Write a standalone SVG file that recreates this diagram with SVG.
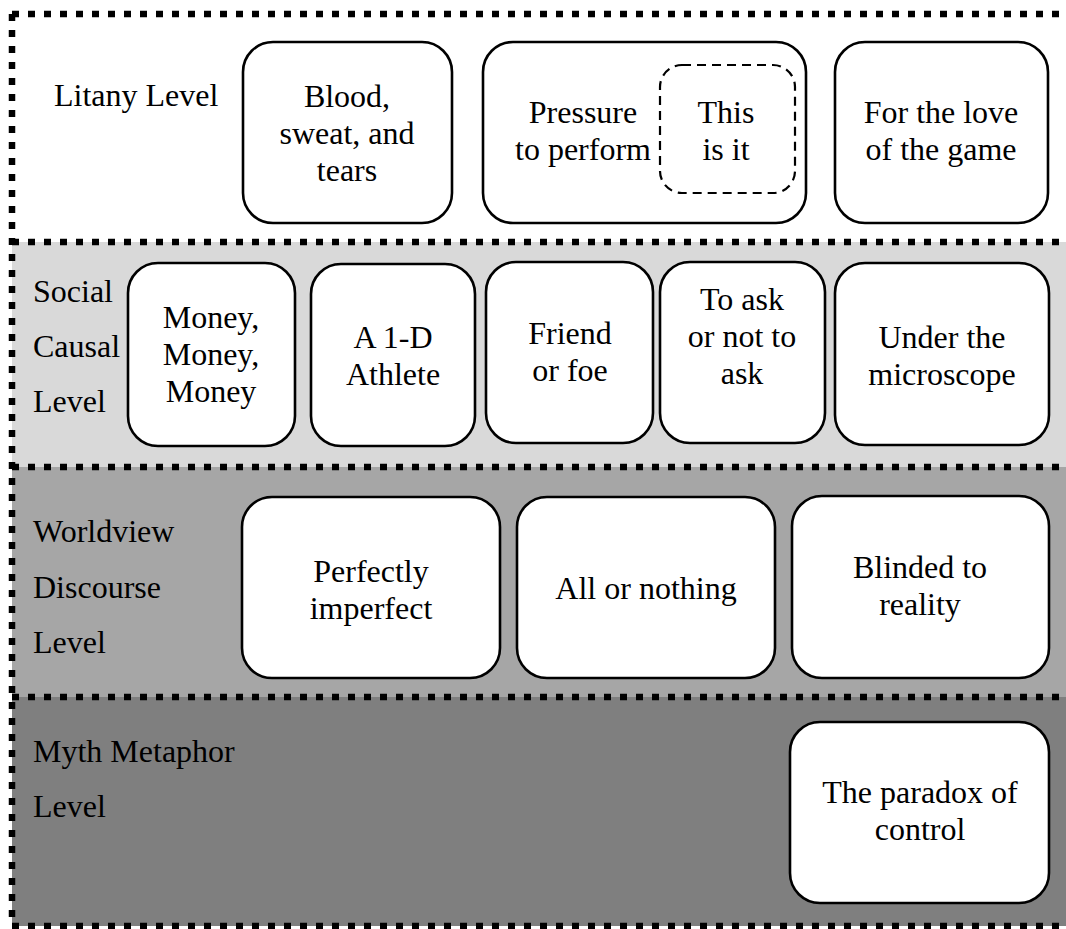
<svg xmlns="http://www.w3.org/2000/svg" width="1066" height="929" viewBox="0 0 1066 929">
  <style>
    text { font-family: "Liberation Serif", "Times New Roman", serif; font-size: 32px; fill: #000; }
    .c { text-anchor: middle; }
    .box { fill: #fff; stroke: #000; stroke-width: 2.6; }
    .inner { fill: none; stroke: #000; stroke-width: 2.2; stroke-dasharray: 9 6; }
    .border { fill: none; stroke: #000; stroke-width: 6.5; stroke-dasharray: 7 9; }
  </style>

  <!-- level bands -->
  <g id="bands">
    <rect x="12" y="14" width="1060" height="228" fill="#ffffff"/>
    <rect x="12" y="242" width="1060" height="225" fill="#d9d9d9"/>
    <rect x="12" y="467" width="1060" height="230" fill="#a6a6a6"/>
    <rect x="12" y="697" width="1060" height="229" fill="#7f7f7f"/>
  </g>

  <!-- dotted band borders -->
  <g id="connectors">
    <path class="border" d="M12 14 H1070 M12 242 H1070 M12 467 H1070 M12 697 H1070 M12 926 H1070"/>
    <path class="border" d="M12 14 V926"/>
  </g>

  <!-- level labels -->
  <g id="label-litany">
    <text x="54" y="106">Litany Level</text>
  </g>
  <g id="label-social">
    <text x="33" y="302">Social</text>
    <text x="33" y="357">Causal</text>
    <text x="33" y="412">Level</text>
  </g>
  <g id="label-worldview">
    <text x="33" y="542">Worldview</text>
    <text x="33" y="598">Discourse</text>
    <text x="33" y="653">Level</text>
  </g>
  <g id="label-myth">
    <text x="33" y="762">Myth Metaphor</text>
    <text x="33" y="817">Level</text>
  </g>

  <!-- litany level -->
  <g id="blood">
    <rect class="box" x="243" y="42" width="209" height="181" rx="30"/>
    <text class="c" x="347" y="107">Blood,</text>
    <text class="c" x="347" y="144">sweat, and</text>
    <text class="c" x="347" y="181">tears</text>
  </g>
  <g id="pressure">
    <rect class="box" x="483" y="42" width="323" height="181" rx="30"/>
    <text class="c" x="583" y="123">Pressure</text>
    <text class="c" x="583" y="160">to perform</text>
  </g>
  <g id="this-is-it">
    <rect class="inner" x="660" y="65" width="135" height="128" rx="22"/>
    <text class="c" x="726" y="123">This</text>
    <text class="c" x="726" y="160">is it</text>
  </g>
  <g id="love">
    <rect class="box" x="835" y="42" width="213" height="181" rx="30"/>
    <text class="c" x="941" y="123">For the love</text>
    <text class="c" x="941" y="160">of the game</text>
  </g>

  <!-- social causal level -->
  <g id="money">
    <rect class="box" x="128" y="263" width="167" height="183" rx="30"/>
    <text class="c" x="211" y="328">Money,</text>
    <text class="c" x="211" y="365">Money,</text>
    <text class="c" x="211" y="402">Money</text>
  </g>
  <g id="athlete">
    <rect class="box" x="311" y="264" width="164" height="182" rx="30"/>
    <text class="c" x="393" y="348">A 1-D</text>
    <text class="c" x="393" y="385">Athlete</text>
  </g>
  <g id="friend">
    <rect class="box" x="486" y="262" width="167" height="181" rx="30"/>
    <text class="c" x="570" y="344">Friend</text>
    <text class="c" x="570" y="381">or foe</text>
  </g>
  <g id="ask">
    <rect class="box" x="660" y="262" width="165" height="181" rx="30"/>
    <text class="c" x="742" y="310">To ask</text>
    <text class="c" x="742" y="347">or not to</text>
    <text class="c" x="742" y="384">ask</text>
  </g>
  <g id="microscope">
    <rect class="box" x="835" y="263" width="214" height="182" rx="30"/>
    <text class="c" x="942" y="348">Under the</text>
    <text class="c" x="942" y="385">microscope</text>
  </g>

  <!-- worldview discourse level -->
  <g id="imperfect">
    <rect class="box" x="242" y="497" width="258" height="181" rx="30"/>
    <text class="c" x="371" y="582">Perfectly</text>
    <text class="c" x="371" y="619">imperfect</text>
  </g>
  <g id="all-or-nothing">
    <rect class="box" x="517" y="497" width="258" height="181" rx="30"/>
    <text class="c" x="646" y="599">All or nothing</text>
  </g>
  <g id="blinded">
    <rect class="box" x="792" y="496" width="257" height="182" rx="30"/>
    <text class="c" x="920" y="578">Blinded to</text>
    <text class="c" x="920" y="615">reality</text>
  </g>

  <!-- myth metaphor level -->
  <g id="paradox">
    <rect class="box" x="790" y="722" width="259" height="181" rx="30"/>
    <text class="c" x="920" y="803">The paradox of</text>
    <text class="c" x="920" y="840">control</text>
  </g>
</svg>
